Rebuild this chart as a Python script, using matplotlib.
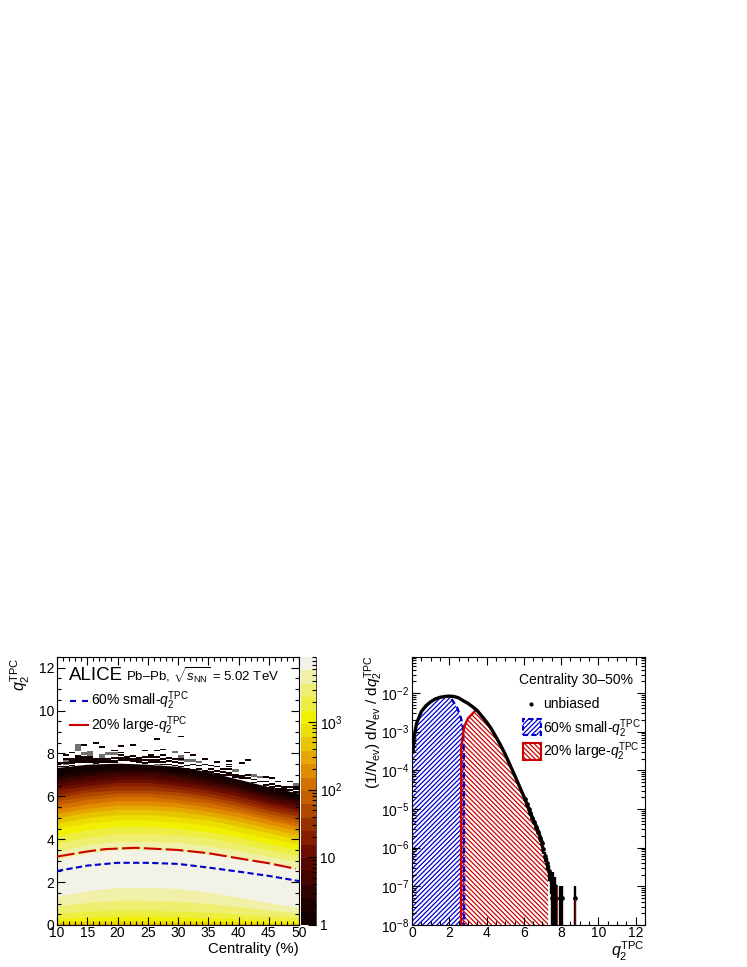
import numpy as np
import matplotlib
matplotlib.use("Agg")
import matplotlib.pyplot as plt
from matplotlib.colors import ListedColormap
from matplotlib.lines import Line2D
from matplotlib.patches import Rectangle
from matplotlib.ticker import MultipleLocator, LogLocator, NullFormatter, FixedLocator, FixedFormatter

plt.rcParams.update({
    'font.family': ['Liberation Sans', 'DejaVu Sans'],
    'mathtext.fontset': 'custom',
    'mathtext.rm': 'Liberation Sans',
    'mathtext.it': 'Liberation Sans:italic',
    'mathtext.bf': 'Liberation Sans:bold',
    'mathtext.default': 'regular',
    'hatch.linewidth': 0.9,
    'axes.linewidth': 0.8,
})

# ---- left panel data ----
CENT = [10, 15, 20, 25, 30, 35, 40, 45, 50]
BAND_COLORS = ['#120000', '#1e0200', '#2e0300', '#420500', '#560700', '#6e0e00', '#861e00',
               '#9a3000', '#b04800', '#c45c00', '#d47000', '#e08c00', '#e6a800', '#e8c400',
               '#ecde00', '#f0f000', '#eeee40', '#eeee70', '#f0f0a8', '#f2f2e6']
UPPER = [
    [7.35, 7.50, 7.55, 7.50, 7.40, 7.15, 6.80, 6.45, 6.15],
    [7.00, 7.20, 7.30, 7.30, 7.15, 6.95, 6.65, 6.25, 5.95],
    [6.85, 7.05, 7.20, 7.20, 7.05, 6.80, 6.50, 6.10, 5.85],
    [6.75, 6.95, 7.10, 7.10, 6.95, 6.70, 6.40, 6.00, 5.75],
    [6.60, 6.80, 6.95, 6.95, 6.80, 6.55, 6.30, 5.90, 5.60],
    [6.45, 6.65, 6.80, 6.80, 6.65, 6.45, 6.15, 5.75, 5.50],
    [6.30, 6.50, 6.65, 6.65, 6.50, 6.30, 6.00, 5.65, 5.35],
    [6.10, 6.35, 6.50, 6.50, 6.35, 6.15, 5.85, 5.50, 5.20],
    [5.95, 6.20, 6.30, 6.30, 6.20, 6.00, 5.70, 5.35, 5.05],
    [5.80, 6.00, 6.15, 6.15, 6.05, 5.85, 5.55, 5.20, 4.90],
    [5.60, 5.85, 6.00, 6.00, 5.85, 5.70, 5.40, 5.05, 4.75],
    [5.40, 5.65, 5.80, 5.80, 5.70, 5.50, 5.25, 4.90, 4.60],
    [5.20, 5.45, 5.60, 5.60, 5.50, 5.30, 5.05, 4.70, 4.40],
    [5.00, 5.25, 5.40, 5.40, 5.30, 5.10, 4.85, 4.50, 4.20],
    [4.75, 5.00, 5.15, 5.15, 5.05, 4.90, 4.60, 4.30, 4.00],
    [4.50, 4.75, 4.90, 4.90, 4.80, 4.65, 4.35, 4.05, 3.75],
    [4.15, 4.45, 4.60, 4.60, 4.50, 4.35, 4.10, 3.80, 3.50],
    [3.80, 4.10, 4.25, 4.25, 4.20, 4.05, 3.80, 3.50, 3.25],
    [3.45, 3.75, 3.90, 3.90, 3.85, 3.70, 3.45, 3.20, 2.95],
    [3.05, 3.35, 3.50, 3.50, 3.45, 3.30, 3.10, 2.85, 2.60],
]
LOWER_TOP7 = [
    [0.05, 0.05, 0.05, 0.05, 0.05, 0.05, 0.04, 0.04, 0.04],
    [0.10, 0.10, 0.10, 0.10, 0.10, 0.10, 0.08, 0.06, 0.05],
    [0.18, 0.20, 0.22, 0.22, 0.20, 0.18, 0.15, 0.12, 0.10],
    [0.30, 0.35, 0.40, 0.40, 0.38, 0.32, 0.28, 0.22, 0.18],
    [0.55, 0.65, 0.70, 0.70, 0.65, 0.60, 0.50, 0.42, 0.35],
    [0.90, 1.05, 1.15, 1.15, 1.10, 1.00, 0.85, 0.70, 0.55],
    [1.35, 1.60, 1.75, 1.75, 1.70, 1.55, 1.30, 1.05, 0.80],
]
DARK_CENT = [11, 11, 11, 12, 12, 12, 13, 13, 14, 14, 15, 15, 16, 16, 16, 17, 17, 18, 18, 19, 19,
             20, 20, 20, 20, 21, 21, 22, 22, 23, 23, 24, 24, 25, 25, 26, 26, 26, 27, 27, 27, 28,
             29, 30, 30, 31, 31, 32, 34, 34, 35, 35, 36, 36, 36, 37, 37, 38, 38, 38, 38, 38, 39,
             40, 40, 41, 41, 42, 44, 44, 45, 45, 46, 46, 47, 47, 48, 48, 49, 49,
             10, 10, 11, 12, 12, 13, 13, 14, 14, 14, 15, 15, 16, 17, 17, 18, 19, 19, 20, 21, 22, 22,
             23, 24, 24, 25, 25, 26, 26, 27, 27, 28, 28, 29, 29, 30, 30, 31, 32, 32, 33, 33, 34, 35,
             36, 37, 38, 39, 40, 41, 42, 43, 44, 45, 46, 47, 48, 49]
DARK_Q2 = [7.9, 7.7, 7.5, 8.0, 7.7, 7.5, 7.85, 7.65, 8.35, 7.6, 7.8, 7.6, 8.45, 7.6, 7.5, 8.25, 7.6,
           7.7, 7.55, 8.1, 7.6, 8.3, 8.0, 7.9, 7.75, 7.8, 7.65, 8.35, 7.85, 7.75, 7.65, 8.1, 7.8,
           7.9, 7.8, 8.65, 8.1, 7.8, 8.15, 7.9, 7.7, 7.6, 7.55, 8.75, 7.7, 8.0, 7.4, 7.9, 7.7, 7.45,
           7.4, 7.25, 7.55, 7.35, 7.15, 7.25, 7.1, 7.6, 7.45, 7.35, 7.25, 7.05, 6.95, 7.5, 6.9, 7.65,
           6.95, 6.75, 6.85, 6.65, 6.8, 6.55, 6.65, 6.45, 6.4, 6.3, 6.65, 6.4, 6.4, 6.3,
           7.5, 7.35, 7.35, 7.6, 7.4, 7.55, 7.75, 7.7, 7.8, 7.55, 7.7, 7.55, 7.7, 7.7, 7.55, 7.65,
           7.75, 7.55, 7.65, 7.7, 7.7, 7.6, 7.55, 7.65, 7.5, 7.65, 7.55, 7.65, 7.55, 7.55, 7.45,
           7.75, 7.45, 7.4, 7.7, 7.5, 7.35, 7.25, 7.45, 7.2, 7.4, 7.25, 7.15, 7.1, 7.0, 6.95, 6.95,
           6.85, 6.8, 6.8, 6.6, 6.65, 6.5, 6.4, 6.3, 6.2, 6.25, 6.15]
GRAY_CENT = [11, 11, 13, 13, 13, 14, 15, 15, 17, 17, 18, 19, 26, 29, 30, 30, 31, 32, 33, 39, 42, 43, 49]
GRAY_Q2 = [7.6, 7.45, 8.3, 8.2, 8.1, 7.95, 8.0, 7.9, 7.85, 7.75, 7.95, 7.95, 7.4, 8.0, 7.8, 7.65,
           7.6, 7.6, 7.55, 7.15, 6.9, 6.85, 6.5]
BLUE_CENT = [10, 15, 20, 25, 30, 35, 40, 45, 50]
BLUE_Q2 = [2.52, 2.77, 2.90, 2.90, 2.85, 2.68, 2.49, 2.29, 2.05]
RED_CENT = [10, 15, 18, 23, 30, 35, 40, 45, 49.5]
RED_Q2 = [3.19, 3.43, 3.54, 3.60, 3.50, 3.35, 3.11, 2.88, 2.62]

# ---- right panel data ----
MAIN_Q = [0.05, 0.12, 0.25, 0.5, 0.75, 1.0, 1.25, 1.5, 1.75, 2.0, 2.25, 2.5, 2.75, 3.0, 3.25, 3.5,
          3.75, 4.0, 4.25, 4.5, 4.75, 5.0, 5.25, 5.5, 5.75, 6.0, 6.25, 6.5, 6.75, 7.0]
MAIN_V = [3.0e-4, 8e-4, 1.66e-3, 3.3e-3, 4.7e-3, 5.9e-3, 7.0e-3, 7.7e-3, 8.1e-3, 8.3e-3, 8.1e-3,
          7.5e-3, 6.3e-3, 5.4e-3, 4.4e-3, 3.5e-3, 2.5e-3, 1.78e-3, 1.2e-3, 7.4e-4, 4.5e-4, 2.6e-4,
          1.4e-4, 7.6e-5, 4e-5, 2.1e-5, 1.05e-5, 5.3e-6, 2.8e-6, 1.3e-6]
TAIL_Q = [6.05, 6.15, 6.25, 6.35, 6.45, 6.55, 6.65, 6.75, 6.85, 6.95, 7.05, 7.15, 7.25, 7.35, 7.45,
          7.5, 7.55, 7.6, 7.65, 7.7, 7.93, 8.03, 8.75]
TAIL_V = [1.8e-5, 1.35e-5, 1.0e-5, 7.8e-6, 6.0e-6, 4.5e-6, 3.4e-6, 2.6e-6, 1.8e-6, 1.3e-6, 9e-7, 6e-7,
          4e-7, 2.5e-7, 1.5e-7, 5e-8, 1.5e-7, 5e-8, 1e-7, 5e-8, 5e-8, 5e-8, 5e-8]
TAIL_E = [1.4e-6, 1.2e-6, 1.0e-6, 9e-7, 8e-7, 7e-7, 6e-7, 5e-7, 4e-7, 3e-7, 2.1e-7, 1.7e-7, 1.4e-7,
          1.1e-7, 8.7e-8, 5e-8, 8.7e-8, 5e-8, 7e-8, 5e-8, 5e-8, 5e-8, 5e-8]
BLUE_FILL_Q = [0.0, 0.05, 0.12, 0.25, 0.5, 0.75, 1.0, 1.25, 1.5, 1.75, 2.0, 2.12, 2.43, 2.63, 2.73, 2.78, 2.80]
BLUE_FILL_V = [1e-8, 3.0e-4, 8e-4, 1.66e-3, 3.3e-3, 4.7e-3, 5.9e-3, 7.0e-3, 7.7e-3, 8.1e-3, 8.3e-3,
               7.0e-3, 4.1e-3, 2.2e-3, 1.3e-3, 3e-4, 1e-8]
RED_FILL_Q = [2.63, 2.64, 2.8, 3.0, 3.4, 3.5, 3.75, 4.0, 4.25, 4.5, 4.75, 5.0, 5.25, 5.5, 5.75, 6.0,
              6.25, 6.5, 6.75, 7.0, 7.3, 7.31]
RED_FILL_V = [1e-8, 4.1e-4, 1.35e-3, 2.2e-3, 3.5e-3, 3.5e-3, 2.5e-3, 1.78e-3, 1.2e-3, 7.4e-4, 4.5e-4,
              2.6e-4, 1.4e-4, 7.6e-5, 4e-5, 2.1e-5, 1.05e-5, 5.3e-6, 2.8e-6, 1.3e-6, 3e-7, 1e-8]
RED_SPIKE_Q = [7.8, 8.75]
RED_SPIKE_V = [1e-7, 5e-8]

W, H = 747, 967
fig = plt.figure(figsize=(W / 100, H / 100), dpi=100)

def rect(x0, y0, x1, y1):
    return [x0 / W, 1 - y1 / H, (x1 - x0) / W, (y1 - y0) / H]

def ftext(px, py, s, **kw):
    kw.setdefault('fontsize', 10)
    kw.setdefault('va', 'center')
    return fig.text(px / W, 1 - py / H, s, **kw)

TLMAJ, TLMIN = 5.8, 2.9
QLAB = r'$\mathit{q}_{2}^{\mathrm{TPC}}$'
HATCH_F, HATCH_B = '/' * 7, '\\' * 7

# ---- left panel ----
ax = fig.add_axes(rect(57, 657, 299, 925))
ax.set_xlim(10, 50)
ax.set_ylim(0, 12.5)
n = len(BAND_COLORS)
for i in range(n):
    low = LOWER_TOP7[i - 13] if i >= 13 else [0] * len(CENT)
    ax.fill_between(CENT, low, UPPER[i], color=BAND_COLORS[i], lw=0, zorder=1 + i * 0.01)
ax.bar(GRAY_CENT, 0.12, width=1, bottom=GRAY_Q2, align='edge', color='#707070', lw=0, zorder=2)
ax.bar(DARK_CENT, 0.08, width=1, bottom=DARK_Q2, align='edge', color='#120000', lw=0, zorder=2)
ax.plot(BLUE_CENT, BLUE_Q2, color='#0000cc', lw=1.5, ls=(0, (3.0, 1.6)), dash_capstyle='butt', zorder=3)
ax.plot(RED_CENT, RED_Q2, color='#cc0000', lw=1.5, ls=(0, (8.5, 2.0)), dash_capstyle='butt', zorder=3)
ax.xaxis.set_major_locator(MultipleLocator(5))
ax.xaxis.set_minor_locator(MultipleLocator(1))
ax.yaxis.set_major_locator(MultipleLocator(2))
ax.yaxis.set_minor_locator(MultipleLocator(0.5))
ax.tick_params(which='major', direction='in', top=True, right=True, length=TLMAJ, width=0.8, labelsize=10, pad=1)
ax.tick_params(which='minor', direction='in', top=True, right=True, length=TLMIN, width=0.8)
ax.tick_params(axis='y', which='major', pad=2)
ax.set_axisbelow(False)

ftext(299, 949, 'Centrality (%)', ha='right', fontsize=10.7)
ftext(20, 657, QLAB, rotation=90, ha='center', va='top', fontsize=11.5)
ftext(69, 675, 'ALICE', fontsize=13.5)
ftext(126, 676, r'Pb–Pb, $\sqrt{\mathit{s}_{\mathrm{NN}}}$ = 5.02 TeV', fontsize=9.5)
ftext(91, 701, r'60% small-' + QLAB, fontsize=10)
ftext(91, 726, r'20% large-' + QLAB, fontsize=10)
fig.add_artist(Line2D([70 / W, 88 / W], [1 - 701 / H] * 2, color='#0000cc', lw=1.5, ls=(0, (2.9, 2.9)), dash_capstyle='butt'))
fig.add_artist(Line2D([70 / W, 88 / W], [1 - 725 / H] * 2, color='#cc0000', lw=1.5))

# ---- colour bar ----
cax = fig.add_axes(rect(301, 657, 316, 925))
edges = np.geomspace(1, 9100, n + 1)
cax.pcolormesh([0, 1], edges, np.arange(n).reshape(-1, 1), cmap=ListedColormap(BAND_COLORS), vmin=0, vmax=n - 1)
cax.set_yscale('log')
cax.set_ylim(1, 9100)
cax.set_xticks([])
cax.yaxis.tick_right()
cax.yaxis.set_major_locator(FixedLocator([1, 10, 100, 1000]))
cax.yaxis.set_major_formatter(FixedFormatter(['1', '10', r'$10^{2}$', r'$10^{3}$']))
cax.yaxis.set_minor_locator(LogLocator(base=10, subs=range(2, 10), numticks=10))
cax.yaxis.set_minor_formatter(NullFormatter())
cax.tick_params(which='major', direction='in', length=TLMAJ, width=0.8, labelsize=10, pad=3)
cax.tick_params(which='minor', direction='in', length=TLMIN, width=0.8)
for s in ['left', 'top', 'bottom']:
    cax.spines[s].set_visible(False)
cax.spines['right'].set_linewidth(0.5)

# ---- right panel ----
ax2 = fig.add_axes(rect(412, 657, 645, 925))
ax2.set_yscale('log')
ax2.set_xlim(0, 12.5)
ax2.set_ylim(1e-8, 10 ** (-8 + 268 / 38.67))
ax2.fill_between(BLUE_FILL_Q, 1e-8, BLUE_FILL_V, facecolor='none', edgecolor='#0000cc', hatch=HATCH_F, lw=0, zorder=1)
ax2.fill_between(RED_FILL_Q, 1e-8, RED_FILL_V, facecolor='none', edgecolor='#cc0000', hatch=HATCH_B, lw=0, zorder=1)
ax2.plot(BLUE_FILL_Q[11:], BLUE_FILL_V[11:], color='#0000cc', lw=1.7, ls=(0, (2.5, 1.5)), dash_capstyle='butt', zorder=2)
ax2.plot([0.02, 0.02], [1e-8, 3e-4], color='#0000cc', lw=1.5, ls=(0, (2.5, 1.5)), dash_capstyle='butt', zorder=2)
ax2.plot(RED_FILL_Q[:5], RED_FILL_V[:5], color='#cc0000', lw=1.7, zorder=2)
ax2.plot(MAIN_Q, MAIN_V, color='black', lw=2.4, solid_capstyle='round', zorder=3)
lower_err = np.minimum(TAIL_E, np.array(TAIL_V) - 1.01e-8)
ax2.errorbar(TAIL_Q, TAIL_V, yerr=[lower_err, TAIL_E], fmt='o', ms=2.4,
             color='black', ecolor='black', elinewidth=1.7, capsize=0, zorder=3)
ax2.vlines(RED_SPIKE_Q, 1e-8, RED_SPIKE_V, color='#a00000', lw=0.6, zorder=4)
ax2.xaxis.set_major_locator(MultipleLocator(2))
ax2.xaxis.set_minor_locator(MultipleLocator(0.5))
ax2.yaxis.set_major_locator(FixedLocator([10.0 ** e for e in range(-8, -1)]))
ax2.yaxis.set_major_formatter(FixedFormatter([rf'$10^{{{e}}}$'.replace('-', '\u2212') for e in range(-8, -1)]))
ax2.yaxis.set_minor_locator(LogLocator(base=10, subs=range(2, 10), numticks=20))
ax2.yaxis.set_minor_formatter(NullFormatter())
ax2.tick_params(which='major', direction='in', top=True, right=True, length=TLMAJ, width=0.8, labelsize=10, pad=1)
ax2.tick_params(which='minor', direction='in', top=True, right=True, length=TLMIN, width=0.8)
ax2.tick_params(axis='y', which='major', pad=2)
ax2.set_axisbelow(False)

ftext(645, 951, QLAB, ha='right', fontsize=11.5)
ftext(374, 655, r'$(1/\mathit{N}_{\mathrm{ev}})$ d$\mathit{N}_{\mathrm{ev}}$ / d' + QLAB, rotation=90, ha='center', va='top', fontsize=11)
ftext(519, 680, 'Centrality 30–50%', fontsize=10)
ftext(543, 704, 'unbiased', fontsize=10)
fig.add_artist(Line2D([531 / W], [1 - 704 / H], marker='o', ms=2, color='black', lw=0))
ftext(543, 729, '60% small-' + QLAB, fontsize=10)
ftext(543, 752, '20% large-' + QLAB, fontsize=10)
fig.add_artist(Rectangle((523 / W, 1 - 735 / H), 18 / W, 16 / H, transform=fig.transFigure, facecolor='none',
                         edgecolor='#0000cc', hatch=HATCH_F, lw=1.5, ls=(0, (2.5, 1.5))))
fig.add_artist(Rectangle((523 / W, 1 - 760 / H), 18 / W, 17 / H, transform=fig.transFigure, facecolor='none',
                         edgecolor='#cc0000', hatch=HATCH_B, lw=1.5))

fig.savefig('out.png', dpi=100)
